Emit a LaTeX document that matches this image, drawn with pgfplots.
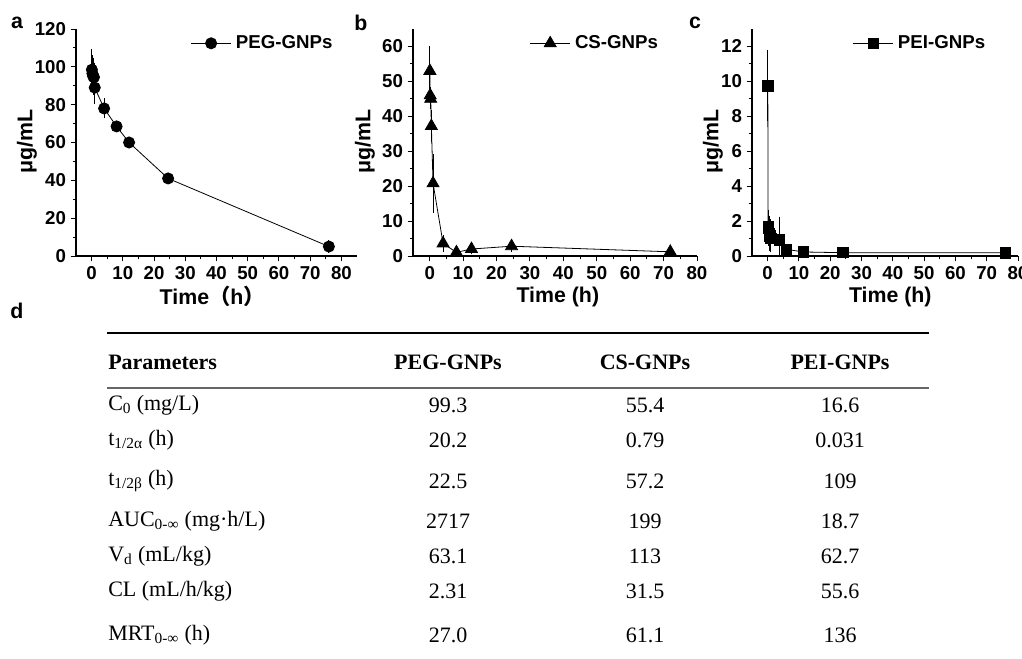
\documentclass[border=0pt]{standalone}
\usepackage{pgfplots}
\pgfplotsset{compat=1.18}
\usepackage{fontspec}
\setmainfont{Liberation Serif}
\setsansfont{Liberation Sans}
\newfontfamily\cjk{Noto Sans CJK SC}

\pgfplotstableread{
t c e
0.083 98.5 9
0.25 96.5 8
0.5 95 8
0.75 94.5 6
1 89 7
4 78 3.5
8 68.5 1
12 60 1
24.5 41 1
76 5 1.5
}\peg
\pgfplotstableread{
t c e
0.05 53 6.2
0.15 46 1.5
0.3 45 2
0.5 37.2 3.7
1 20.8 7.5
4 3.6 1.5
8 1.05 0.5
12.5 2.0 0.6
24.5 2.8 0.8
72 1.2 0.3
}\cs
\pgfplotstableread{
t c e
0.05 9.75 1.85
0.15 1.6 0.85
0.3 1.7 0.7
0.5 1.3 0.8
0.75 1.15 0.75
1 1.0 0.6
3.8 0.92 1.15
6 0.38 0.1
11.5 0.23 0.05
24 0.19 0.04
76 0.18 0.04
}\pei

\pgfplotsset{
 pk/.style={
  scale only axis,
  axis x line*=bottom, axis y line*=left,
  axis line style={line width=0.8pt},
  tick align=outside,
  major tick length=4pt, minor tick length=2.3pt,
  every tick/.style={line width=0.7pt, black},
  minor x tick num=1, minor y tick num=1,
  xmin=-5, xtick={0,10,...,80},
  ymin=0,
  /pgf/number format/assume math mode=true,
  tick label style={font=\sffamily\bfseries\fontsize{14}{16}\selectfont},
  label style={font=\sffamily\bfseries\fontsize{16}{18}\selectfont},
  legend style={draw=none, fill=none, font=\sffamily\bfseries\fontsize{14}{16}\selectfont, anchor=east, inner sep=0pt, nodes={inner sep=3.5pt}},
  legend image code/.code={\draw[mark repeat=2,mark phase=2,##1] plot coordinates {(0cm,0cm) (0.52cm,0cm) (1.04cm,0cm)};},
  error bars/y dir=both, error bars/y explicit,
  error bars/error bar style={line width=0.6pt, black},
  error bars/error mark options={line width=0.6pt, mark size=2.5pt, black},
 }
}

\begin{document}
\begin{tikzpicture}[x=0.75pt,y=-0.75pt]
\useasboundingbox (0,0) rectangle (1022,659);
\coordinate (A) at (76,256);
\coordinate (B) at (413,256);
\coordinate (C) at (752,256);

% panel a
\begin{axis}[pk, at={(A)}, anchor=south west,
  width=210.75pt, height=170.25pt,
  xmax=85, ymax=120, ytick={0,20,...,120},
  xlabel={Time{\cjk\bfseries （}h{\cjk\bfseries ）}}, ylabel={μg/mL},
  xlabel style={at={(axis description cs:0.485,-0.18)}, anchor=center},
  ylabel style={at={(axis description cs:-0.175,0.503)}, anchor=center},
  legend style={at={(axis description cs:0.93,0.937)}}]
\addplot[black, line width=0.6pt, mark=*, mark size=4.2pt, mark options={fill=black}] table[x=t,y=c,y error=e] {\peg};
\addlegendentry{PEG-GNPs}
\end{axis}

% panel b
\begin{axis}[pk, at={(B)}, anchor=south west,
  width=213pt, height=170.25pt,
  xmax=80, ymax=65, ytick={0,10,...,60},
  xlabel={Time (h)}, ylabel={μg/mL},
  xlabel style={at={(axis description cs:0.51,-0.18)}, anchor=center},
  ylabel style={at={(axis description cs:-0.169,0.503)}, anchor=center},
  legend style={at={(axis description cs:0.88,0.937)}}]
\addplot[black, line width=0.6pt, mark=triangle*, mark size=5.2pt, mark options={fill=black}] table[x=t,y=c,y error=e] {\cs};
\addlegendentry{CS-GNPs}
\end{axis}

% panel c
\begin{axis}[pk, at={(C)}, anchor=south west,
  width=199.5pt, height=170.25pt,
  xmax=80, ymax=13, ytick={0,2,...,12},
  xlabel={Time (h)}, ylabel={μg/mL},
  xlabel style={at={(axis description cs:0.52,-0.18)}, anchor=center},
  ylabel style={at={(axis description cs:-0.147,0.503)}, anchor=center},
  legend style={at={(axis description cs:0.895,0.937)}}]
\addplot[black, line width=0.6pt, mark=square*, mark size=3.9pt, mark options={fill=black}] table[x=t,y=c,y error=e] {\pei};
\addlegendentry{PEI-GNPs}
\end{axis}

% panel letters
\begin{scope}[every node/.style={font=\sffamily\bfseries\fontsize{16}{18}\selectfont}]
\node at (17,23) {a};
\node at (361,23) {b};
\node at (695,23) {c};
\node at (17,311) {d};
\end{scope}

% table d
\draw[line width=1.5pt] (107,333) -- (929,333);
\draw[line width=0.8pt, black!60] (107,388) -- (929,388);
\begin{scope}[every node/.style={font=\fontsize{16.5}{19}\selectfont, inner sep=0pt}]
\node[anchor=west] at (108,362) {\bfseries Parameters};
\node at (448,362) {\bfseries PEG-GNPs};
\node at (645,362) {\bfseries CS-GNPs};
\node at (840,362) {\bfseries PEI-GNPs};
\foreach \y/\p/\a/\b/\c in {
  405/{C\textsubscript{0} (mg/L)}/99.3/55.4/16.6,
  440/{t\textsubscript{1/2α} (h)}/20.2/0.79/0.031,
  481/{t\textsubscript{1/2β} (h)}/22.5/57.2/109,
  521/{AUC\textsubscript{0-∞} (mg·h/L)}/2717/199/18.7,
  556/{V\textsubscript{d} (mL/kg)}/63.1/113/62.7,
  591/{CL (mL/h/kg)}/2.31/31.5/55.6,
  635/{MRT\textsubscript{0-∞} (h)}/27.0/61.1/136}{
  \node[anchor=west] at (108,\y) {\p};
  \node at (448,\y) {\a};
  \node at (645,\y) {\b};
  \node at (840,\y) {\c};
}
\end{scope}
\end{tikzpicture}
\end{document}
